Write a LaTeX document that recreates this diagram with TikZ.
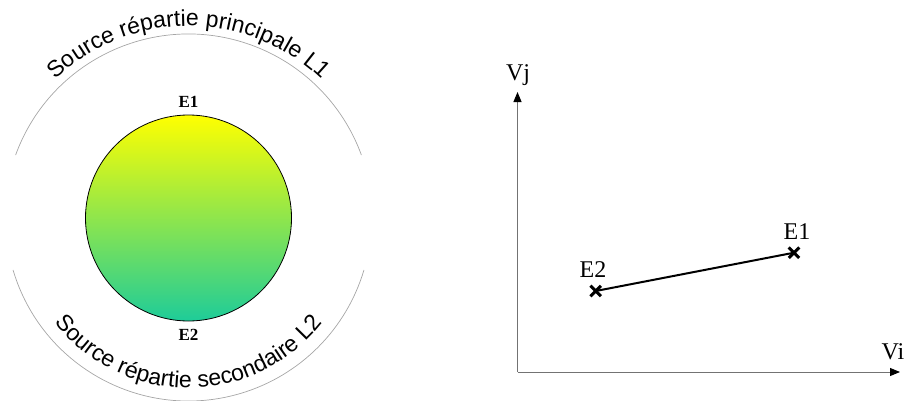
\documentclass[tikz,border=0pt]{standalone}
\usepackage{fontspec}
\setmainfont{Liberation Serif}
\newfontfamily\arialfont{Liberation Sans}
\usetikzlibrary{arrows.meta,decorations.text,shapes.misc}
\definecolor{tealgreen}{RGB}{30,204,153}
\begin{document}
\begin{tikzpicture}[x=1pt,y=1pt,
  arcline/.style={draw=black!35, line width=0.7pt},
  axisline/.style={draw=black!55, line width=1pt, -{Triangle[length=10pt,width=8pt,color=black]}},
  ptmark/.style={cross out, draw=black, line width=3pt, minimum size=7.5pt, inner sep=0pt},
  ptlabel/.style={font=\fontsize{24}{24}\selectfont},
  elabel/.style={font=\bfseries\fontsize{17}{17}\selectfont}]
\useasboundingbox (0,0) rectangle (909,400);
% left part
\coordinate (c) at (188.5,182);
\shade[top color=yellow, bottom color=tealgreen, draw=black, line width=0.8pt] (c) circle[radius=103pt];
\draw[arcline] (c) ++(160:184) arc[start angle=160, end angle=20, radius=184pt];
\draw[arcline] (c) ++(196.5:183) arc[start angle=196.5, end angle=343.5, radius=183pt];
\path[decorate, decoration={text along path, text align=center,
  text={|\arialfont\fontsize{23}{26}\selectfont|Source répartie principale L1}}]
  (c) ++(160:192) arc[start angle=160, end angle=20, radius=192pt];
\path[decorate, decoration={text along path, text align=center,
  text={|\arialfont\fontsize{23}{26}\selectfont|Source répartie secondaire L2}}]
  (c) ++(200:170) arc[start angle=200, end angle=340, radius=170pt];
\node[elabel] (le1) at (188.5,298) {E1};
\node[elabel] (le2) at (188.5,65) {E2};
% right part
\coordinate (o) at (517.5,28);
\coordinate (ytop) at (517.5,308);
\coordinate (xend) at (900,28);
\draw[axisline] (o) -- (ytop);
\draw[axisline] (o) -- (xend);
\node[ptlabel] (vj) at (518,325) {Vj};
\node[ptlabel] (vi) at (893,48) {Vi};
\node[ptmark] (e2) at (595.7,109) {};
\node[ptmark] (e1) at (794,147.3) {};
\draw[line width=2pt] (e2.center) -- (e1.center);
\node[ptlabel] (te2) at (593,130) {E2};
\node[ptlabel] (te1) at (797,168) {E1};
\end{tikzpicture}
\end{document}
